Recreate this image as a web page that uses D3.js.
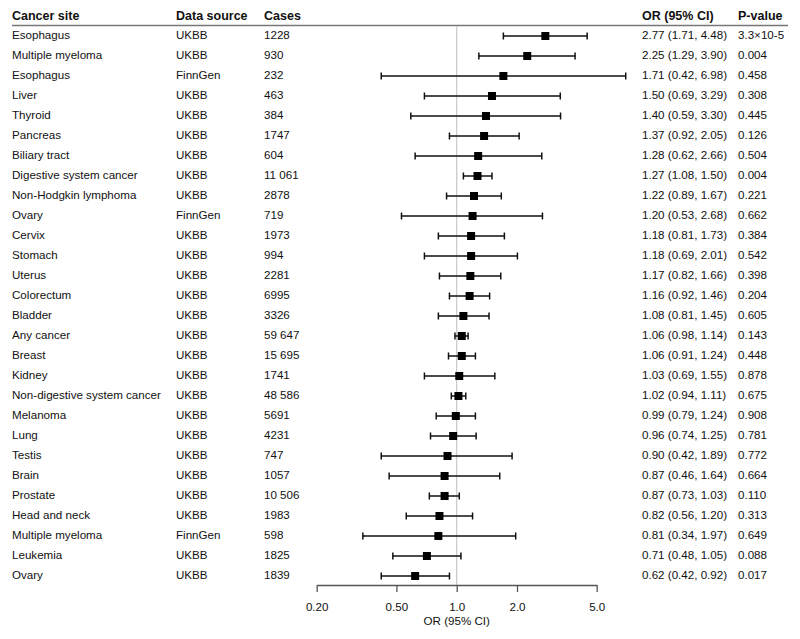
<!DOCTYPE html>
<html><head><meta charset="utf-8">
<script src="https://cdn.jsdelivr.net/npm/d3@7"></script>
<style>body{margin:0;background:#fff;} svg{display:block;font-family:"Liberation Sans",Arial,sans-serif;}</style>
</head><body>
<script>
const sites = ["Esophagus","Multiple myeloma","Esophagus","Liver","Thyroid","Pancreas","Biliary tract","Digestive system cancer","Non-Hodgkin lymphoma","Ovary","Cervix","Stomach","Uterus","Colorectum","Bladder","Any cancer","Breast","Kidney","Non-digestive system cancer","Melanoma","Lung","Testis","Brain","Prostate","Head and neck","Multiple myeloma","Leukemia","Ovary"];
const sources = ["UKBB","UKBB","FinnGen","UKBB","UKBB","UKBB","UKBB","UKBB","UKBB","FinnGen","UKBB","UKBB","UKBB","UKBB","UKBB","UKBB","UKBB","UKBB","UKBB","UKBB","UKBB","UKBB","UKBB","UKBB","UKBB","FinnGen","UKBB","UKBB"];
const cases = ["1228","930","232","463","384","1747","604","11 061","2878","719","1973","994","2281","6995","3326","59 647","15 695","1741","48 586","5691","4231","747","1057","10 506","1983","598","1825","1839"];
const orVals = [2.77,2.25,1.71,1.50,1.40,1.37,1.28,1.27,1.22,1.20,1.18,1.18,1.17,1.16,1.08,1.06,1.06,1.03,1.02,0.99,0.96,0.90,0.87,0.87,0.82,0.81,0.71,0.62];
const lowVals = [1.71,1.29,0.42,0.69,0.59,0.92,0.62,1.08,0.89,0.53,0.81,0.69,0.82,0.92,0.81,0.98,0.91,0.69,0.94,0.79,0.74,0.42,0.46,0.73,0.56,0.34,0.48,0.42];
const highVals = [4.48,3.90,6.98,3.29,3.30,2.05,2.66,1.50,1.67,2.68,1.73,2.01,1.66,1.46,1.45,1.14,1.24,1.55,1.11,1.24,1.25,1.89,1.64,1.03,1.20,1.97,1.05,0.92];
const pVals = ["3.3×10-5","0.004","0.458","0.308","0.445","0.126","0.504","0.004","0.221","0.662","0.384","0.542","0.398","0.204","0.605","0.143","0.448","0.878","0.675","0.908","0.781","0.772","0.664","0.110","0.313","0.649","0.088","0.017"];
const tickVals = [0.2,0.5,1.0,2.0,5.0];
const tickLabels = ["0.20","0.50","1.0","2.0","5.0"];
const headers = ["Cancer site","Data source","Cases","OR (95% CI)","P-value"];

const W=800,H=639;
const svg=d3.select("body").append("svg").attr("width",W).attr("height",H);
const x=d3.scaleLog().domain([0.2,5]).range([316.7,596.7]);
const y=d3.scaleBand().domain(d3.range(sites.length)).range([26,586]).padding(0);
const yc=i=>y(i)+y.bandwidth()/2;
const colX=[12,176,264,642,738];
const fmt=d3.format(".2f");

// headers
svg.selectAll("text.hdr").data(headers).join("text").attr("class","hdr")
  .attr("x",(d,i)=>colX[i]).attr("y",20).attr("font-size",12.5).attr("font-weight","bold").attr("fill","#111").text(d=>d);
svg.append("line").attr("x1",12).attr("x2",788).attr("y1",25.5).attr("y2",25.5).attr("stroke","#777").attr("stroke-width",1.6);

// reference line
svg.append("line").attr("x1",x(1)).attr("x2",x(1)).attr("y1",26).attr("y2",585).attr("stroke","#c8c8c8").attr("stroke-width",1.2);

const rows=svg.append("g").selectAll("g").data(sites).join("g").attr("transform",(d,i)=>`translate(0,${yc(i)})`);
const fs=11.6, dy="0.27em";
rows.append("text").attr("x",colX[0]).attr("dy",dy).attr("font-size",fs).attr("fill","#111").text(d=>d);
rows.append("text").attr("x",colX[1]).attr("dy",dy).attr("font-size",fs).attr("fill","#111").text((d,i)=>sources[i]);
rows.append("text").attr("x",colX[2]).attr("dy",dy).attr("font-size",fs).attr("fill","#111").text((d,i)=>cases[i]);
rows.append("text").attr("x",colX[3]).attr("dy",dy).attr("font-size",fs).attr("fill","#111").text((d,i)=>`${fmt(orVals[i])} (${fmt(lowVals[i])}, ${fmt(highVals[i])})`);
rows.append("text").attr("x",colX[4]).attr("dy",dy).attr("font-size",fs).attr("fill","#111").text((d,i)=>pVals[i]);

// CI lines
rows.append("line").attr("x1",(d,i)=>x(lowVals[i])).attr("x2",(d,i)=>x(highVals[i])).attr("stroke","#111").attr("stroke-width",1.5);
rows.append("line").attr("x1",(d,i)=>x(lowVals[i])).attr("x2",(d,i)=>x(lowVals[i])).attr("y1",-3.5).attr("y2",3.5).attr("stroke","#111").attr("stroke-width",1.5);
rows.append("line").attr("x1",(d,i)=>x(highVals[i])).attr("x2",(d,i)=>x(highVals[i])).attr("y1",-3.5).attr("y2",3.5).attr("stroke","#111").attr("stroke-width",1.5);
rows.append("rect").attr("x",(d,i)=>x(orVals[i])-4).attr("y",-4).attr("width",8).attr("height",8).attr("fill","#000");

// axis
const ax=svg.append("g").attr("transform","translate(0,585)")
  .call(d3.axisBottom(x).tickValues(tickVals).tickFormat((d,i)=>tickLabels[i]).tickSize(7).tickSizeOuter(0).tickPadding(11));
ax.select(".domain").attr("stroke","#555").attr("stroke-width",1.3);
ax.selectAll(".tick line").attr("stroke","#555").attr("stroke-width",1.3);
ax.selectAll(".tick text").attr("font-size",11.6).attr("fill","#111").attr("font-family","Liberation Sans, Arial, sans-serif");
svg.append("text").attr("x",x(1)).attr("y",625).attr("text-anchor","middle").attr("font-size",11.6).attr("fill","#111").text("OR (95% CI)");
</script>
</body></html>
